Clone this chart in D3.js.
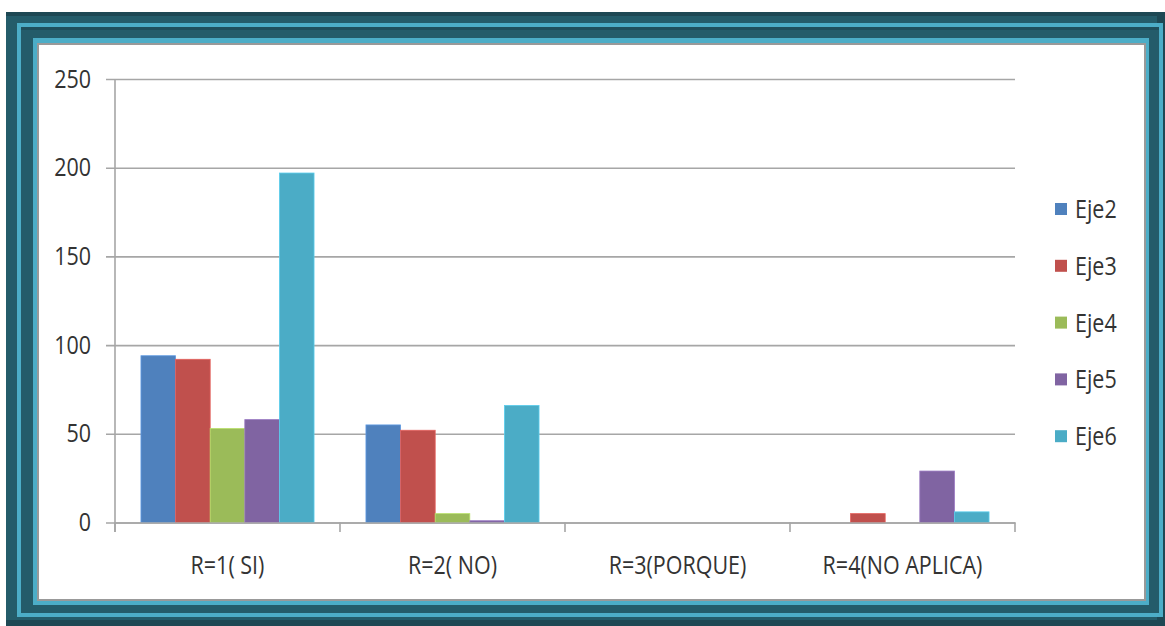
<!DOCTYPE html>
<html>
<head>
<meta charset="utf-8">
<script src="https://cdn.jsdelivr.net/npm/d3@7"></script>
<style>
  html, body { margin: 0; padding: 0; background: #fff; }
  svg { display: block; }
  text { font-family: "Open Sans", "Liberation Sans", sans-serif; fill: #333; }
</style>
</head>
<body>
<svg id="chart" width="1165" height="626"></svg>
<script>
// ---- data ----
const categories = ["R=1( SI)", "R=2( NO)", "R=3(PORQUE)", "R=4(NO APLICA)"];
const seriesNames = ["Eje2", "Eje3", "Eje4", "Eje5", "Eje6"];
const eje2 = [94, 55, 0, 0];
const eje3 = [92, 52, 0, 5];
const eje4 = [53, 5, 0, 0];
const eje5 = [58, 1, 0, 29];
const eje6 = [197, 66, 0, 6];
const seriesValues = [eje2, eje3, eje4, eje5, eje6];
const yTicks = [0, 50, 100, 150, 200, 250];
const colors = ["#4F81BD", "#C0504D", "#9BBB59", "#8064A2", "#4BACC6"];

const svg = d3.select("#chart");

// ---- frame ----
svg.append("rect").attr("x", 6).attr("y", 12).attr("width", 1159).attr("height", 614).attr("fill", "#1e4854");
svg.append("rect").attr("x", 6).attr("y", 16).attr("width", 1151).attr("height", 604).attr("fill", "#245c6a");
svg.append("rect").attr("x", 19).attr("y", 25).attr("width", 1142).attr("height", 590)
  .attr("fill", "#245c6a").attr("stroke", "#4cadc7").attr("stroke-width", 4);
svg.append("rect").attr("x", 21).attr("y", 27).attr("width", 1138).attr("height", 3).attr("fill", "#1f4f5c");
svg.append("rect").attr("x", 33).attr("y", 38).attr("width", 1116).attr("height", 567).attr("fill", "#4cadc7");
svg.append("rect").attr("x", 37).attr("y", 43).attr("width", 1109).attr("height", 558).attr("fill", "#999");
svg.append("rect").attr("x", 39).attr("y", 45).attr("width", 1105).attr("height", 554).attr("fill", "#fff");

// ---- scales ----
const x0 = d3.scaleBand().domain(categories).range([115, 1015]).paddingInner(0).paddingOuter(0);
const x1 = d3.scaleBand().domain(seriesNames).range([0, x0.bandwidth()]).paddingInner(0).paddingOuter(0.75);
const y = d3.scaleLinear().domain([0, 250]).range([522.5, 79]);

const SX = 0.86;
function squish(sel) {
  sel.each(function () {
    const t = d3.select(this);
    const tx = +t.attr("x") || 0, ty = +t.attr("y") || 0;
    t.attr("x", 0).attr("y", 0).attr("transform", `translate(${tx},${ty}) scale(${SX},1)`);
  });
}

// ---- grid + y axis ----
const yAxis = d3.axisLeft(y).tickValues(yTicks).tickSize(909).tickPadding(15).tickFormat(d3.format("d"));
const gy = svg.append("g").attr("transform", "translate(1015,0)").call(yAxis);
gy.select(".domain").remove();
gy.selectAll(".tick line").attr("stroke", "#a6a6a6").attr("stroke-width", 1.6);
gy.selectAll(".tick text").attr("font-size", 25).attr("fill", "#333").call(squish);

svg.append("line").attr("x1", 115).attr("x2", 115).attr("y1", y(250)).attr("y2", 532)
  .attr("stroke", "#a6a6a6").attr("stroke-width", 1.6);

// ---- bars ----
const groups = svg.append("g").selectAll("g").data(categories).join("g")
  .attr("transform", d => `translate(${x0(d)},0)`);
groups.selectAll("rect").data((c, ci) => seriesNames.map((s, si) => ({ s, si, v: seriesValues[si][ci] })))
  .join("rect")
  .attr("x", d => x1(d.s))
  .attr("width", x1.bandwidth())
  .attr("y", d => y(d.v))
  .attr("height", d => y(0) - y(d.v))
  .attr("fill", d => colors[d.si])
  .attr("stroke", d => d.v > 0 ? d3.color(colors[d.si]).brighter(0.5) : "none")
  .attr("stroke-width", 0.8);

// ---- x axis ----
const xAxis = d3.axisBottom(x0).tickSize(0).tickPadding(34);
const gx = svg.append("g").attr("transform", `translate(0,${y(0)})`).call(xAxis);
gx.select(".domain").attr("stroke", "#a6a6a6").attr("stroke-width", 1.6);
gx.selectAll(".tick text").attr("font-size", 25).attr("fill", "#333")
  .each(function () { d3.select(this).attr("y", 34 + 0.71 * 25).attr("dy", null); })
  .call(squish);

const bounds = categories.map(c => x0(c)).concat([x0.range()[1]]);
svg.append("g").selectAll("line").data(bounds).join("line")
  .attr("x1", d => d).attr("x2", d => d).attr("y1", y(0)).attr("y2", 532)
  .attr("stroke", "#a6a6a6").attr("stroke-width", 1.6);

// ---- legend ----
const lg = svg.append("g").selectAll("g").data(seriesNames).join("g")
  .attr("transform", (d, i) => `translate(1055,${209 + i * 56.8})`);
lg.append("rect").attr("x", 0).attr("y", -6).attr("width", 12).attr("height", 12)
  .attr("fill", (d, i) => colors[i]);
lg.append("text").attr("x", 20).attr("y", 9).attr("font-size", 25).attr("fill", "#222")
  .text(d => d).call(squish);
</script>
</body>
</html>
